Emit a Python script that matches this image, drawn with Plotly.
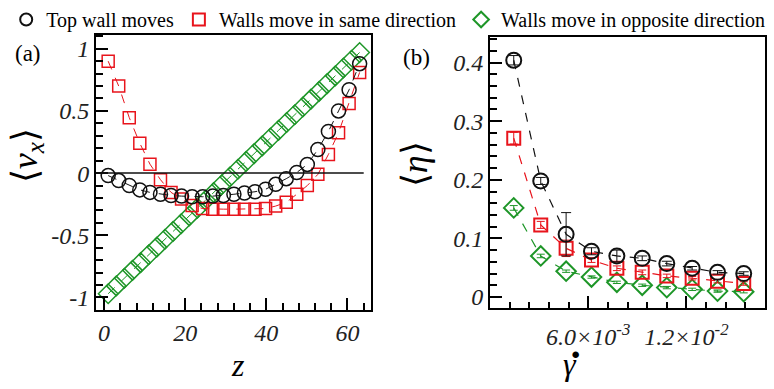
import plotly.graph_objects as go

# ---------------- data: panel (a) ----------------
z_ab = [1.0, 3.6, 6.2, 8.8, 11.3, 13.9, 16.5, 19.1, 21.7, 24.3, 26.8, 29.4, 32.0,
        34.6, 37.2, 39.8, 42.3, 44.9, 47.5, 50.1, 52.7, 55.3, 57.8, 60.4, 63.0]
vx_top = [-0.02, -0.06, -0.10, -0.135, -0.155, -0.17, -0.18, -0.185, -0.19, -0.19,
          -0.185, -0.18, -0.17, -0.16, -0.15, -0.13, -0.09, -0.045, 0.005, 0.07,
          0.19, 0.335, 0.50, 0.67, 0.88]
vx_same = [0.90, 0.70, 0.446, 0.24, 0.072, -0.053, -0.155, -0.208, -0.26, -0.285,
           -0.29, -0.29, -0.29, -0.29, -0.29, -0.285, -0.265, -0.235, -0.17, -0.10,
           -0.01, 0.15, 0.325, 0.56, 0.81]
z_opp = [1, 3, 5, 7, 9, 11, 13, 15, 17, 19, 21, 23, 25, 27, 29, 31, 33, 35, 37, 39,
         41, 43, 45, 47, 49, 51, 53, 55, 57, 59, 61, 63]
vx_opp = [-0.97, -0.907, -0.845, -0.782, -0.72, -0.657, -0.595, -0.532, -0.469,
          -0.407, -0.344, -0.282, -0.219, -0.157, -0.094, -0.031, 0.031, 0.094,
          0.157, 0.219, 0.282, 0.344, 0.407, 0.469, 0.532, 0.595, 0.657, 0.72,
          0.782, 0.845, 0.907, 0.97]

# ---------------- data: panel (b) ----------------
gdot = [0.00145, 0.0031, 0.00465, 0.0062, 0.00775, 0.0093, 0.0108, 0.01235, 0.0139, 0.0155]
eta_top = [0.404, 0.198, 0.107, 0.078, 0.070, 0.066, 0.057, 0.049, 0.042, 0.040]
eta_top_err = [0.008, 0.006, 0.037, 0.006, 0.010, 0.004, 0.004, 0.003, 0.003, 0.003]
eta_same = [0.271, 0.123, 0.083, 0.063, 0.049, 0.042, 0.036, 0.032, 0.027, 0.023]
eta_same_err = [0.010, 0.006, 0.014, 0.004, 0.004, 0.004, 0.003, 0.003, 0.003, 0.003]
eta_opp = [0.152, 0.070, 0.044, 0.034, 0.025, 0.020, 0.016, 0.013, 0.010, 0.009]
eta_opp_err = [0.004, 0.003, 0.002, 0.002, 0.002, 0.002, 0.002, 0.002, 0.002, 0.002]

legend_names = ["Top wall moves", "Walls move in same direction",
                "Walls move in opposite direction"]

BLACK = "#111111"
RED = "#e8141c"
GREEN = "#1e9628"
SERIF = "Liberation Serif"

fig = go.Figure()

# panel (a)
fig.add_trace(go.Scatter(x=z_opp, y=vx_opp, mode="lines+markers", xaxis="x", yaxis="y",
                         line=dict(color=GREEN, width=1, dash="dash"),
                         marker=dict(symbol="diamond-open", size=15, color=GREEN,
                                     line=dict(width=1.5)), showlegend=False))
fig.add_trace(go.Scatter(x=z_ab, y=vx_same, mode="lines+markers", xaxis="x", yaxis="y",
                         line=dict(color=RED, width=1, dash="dash"),
                         marker=dict(symbol="square-open", size=12, color=RED,
                                     line=dict(width=1.5)), showlegend=False))
fig.add_trace(go.Scatter(x=z_ab, y=vx_top, mode="lines+markers", xaxis="x", yaxis="y",
                         line=dict(color=BLACK, width=1, dash="dash"),
                         marker=dict(symbol="circle-open", size=14, color=BLACK,
                                     line=dict(width=1.5)), showlegend=False))

# panel (b)
fig.add_trace(go.Scatter(x=gdot, y=eta_opp, mode="lines+markers", xaxis="x2", yaxis="y2",
                         error_y=dict(type="data", array=eta_opp_err, color=GREEN,
                                      thickness=1, width=4),
                         line=dict(color=GREEN, width=1.2, dash="dash"),
                         marker=dict(symbol="diamond-open", size=15, color=GREEN,
                                     line=dict(width=2)), showlegend=False))
fig.add_trace(go.Scatter(x=gdot, y=eta_same, mode="lines+markers", xaxis="x2", yaxis="y2",
                         error_y=dict(type="data", array=eta_same_err, color=RED,
                                      thickness=1, width=4),
                         line=dict(color=RED, width=1.2, dash="dash"),
                         marker=dict(symbol="square-open", size=13, color=RED,
                                     line=dict(width=2)), showlegend=False))
fig.add_trace(go.Scatter(x=gdot, y=eta_top, mode="lines+markers", xaxis="x2", yaxis="y2",
                         error_y=dict(type="data", array=eta_top_err, color=BLACK,
                                      thickness=1, width=5),
                         line=dict(color=BLACK, width=1.2, dash="dash"),
                         marker=dict(symbol="circle-open", size=15, color=BLACK,
                                     line=dict(width=2)), showlegend=False))

# legend entries
for name, sym, col in zip(legend_names, ["circle-open", "square-open", "diamond-open"],
                          [BLACK, RED, GREEN]):
    fig.add_trace(go.Scatter(x=[None], y=[None], mode="markers", name=name,
                             xaxis="x", yaxis="y",
                             marker=dict(symbol=sym, size=12, color=col,
                                         line=dict(width=2))))

axis_common = dict(showline=True, linecolor="black", linewidth=2, mirror=True,
                   ticks="inside", tickcolor="black", tickwidth=2, ticklen=12,
                   showgrid=False, zeroline=False,
                   tickfont=dict(family=SERIF, size=24, color="#222", style="italic"))


def ann(text, x, y, size, angle=0):
    return dict(text=text, x=x/774, y=1-y/389, xref="paper", yref="paper",
                xanchor="center", yanchor="middle", showarrow=False, textangle=angle,
                font=dict(family=SERIF, size=size, color="black"))


fig.update_layout(
    width=774, height=389,
    margin=dict(l=0, r=0, t=0, b=0),
    paper_bgcolor="white", plot_bgcolor="white",
    font=dict(family=SERIF),
    xaxis=dict(domain=[96/774, 371/774], range=[-2.0, 65.8],
               tickvals=[0, 20, 40, 60], ticktext=["0", "20", "40", "60"],
               minor=dict(ticks="inside", ticklen=7, tickwidth=2, tickcolor="black",
                          tickmode="linear", tick0=0, dtick=4),
               anchor="y", **axis_common),
    yaxis=dict(domain=[1-312/389, 1-35/389], range=[-1.104, 1.112],
               tickvals=[-1, -0.5, 0, 0.5, 1], ticktext=["-1", "-0.5", "0", "0.5", "1"],
               minor=dict(ticks="inside", ticklen=7, tickwidth=2, tickcolor="black",
                          tickmode="linear", tick0=0, dtick=0.1),
               anchor="x", **axis_common),
    xaxis2=dict(domain=[490/774, 765/774], range=[0, 0.0168],
                tickvals=[0.006, 0.012],
                ticktext=["6.0×10<sup>-3</sup>", "1.2×10<sup>-2</sup>"],
                minor=dict(ticks="inside", ticklen=6, tickwidth=2, tickcolor="black",
                           tickmode="linear", tick0=0, dtick=0.0012),
                ticklabelstandoff=6,
                anchor="y2", **{**axis_common,
                                "tickfont": dict(family=SERIF, size=24, color="#222",
                                                 style="italic")}),
    yaxis2=dict(domain=[1-310/389, 1-37/389], range=[-0.0195, 0.444],
                tickvals=[0, 0.1, 0.2, 0.3, 0.4], ticktext=["0", "0.1", "0.2", "0.3", "0.4"],
                minor=dict(ticks="inside", ticklen=7, tickwidth=2, tickcolor="black",
                           tickmode="linear", tick0=0, dtick=0.02),
                anchor="x2", **axis_common),
    legend=dict(orientation="h", x=0.008, y=1.0, xanchor="left", yanchor="top",
                font=dict(family=SERIF, size=20, color="black"),
                itemwidth=30, tracegroupgap=0, bgcolor="rgba(0,0,0,0)"),
    shapes=[dict(type="line", xref="x", yref="y", x0=-2.0, x1=64.0, y0=0, y1=0,
                 line=dict(color=BLACK, width=1.5))],
    annotations=[
        ann("(a)", 28, 54, 23),
        ann("(b)", 416, 58, 23),
        ann("⟨<i>v<sub>x</sub></i>⟩", 27, 157, 36, angle=-90),
        ann("⟨<i>η</i>⟩", 415, 165, 36, angle=-90),
        ann("<i>z</i>", 238, 367, 32),
        ann("<i>γ</i>", 570, 366, 32),
        ann("<b>·</b>", 575, 356, 40),
    ],
)

fig.write_html("out.html")
